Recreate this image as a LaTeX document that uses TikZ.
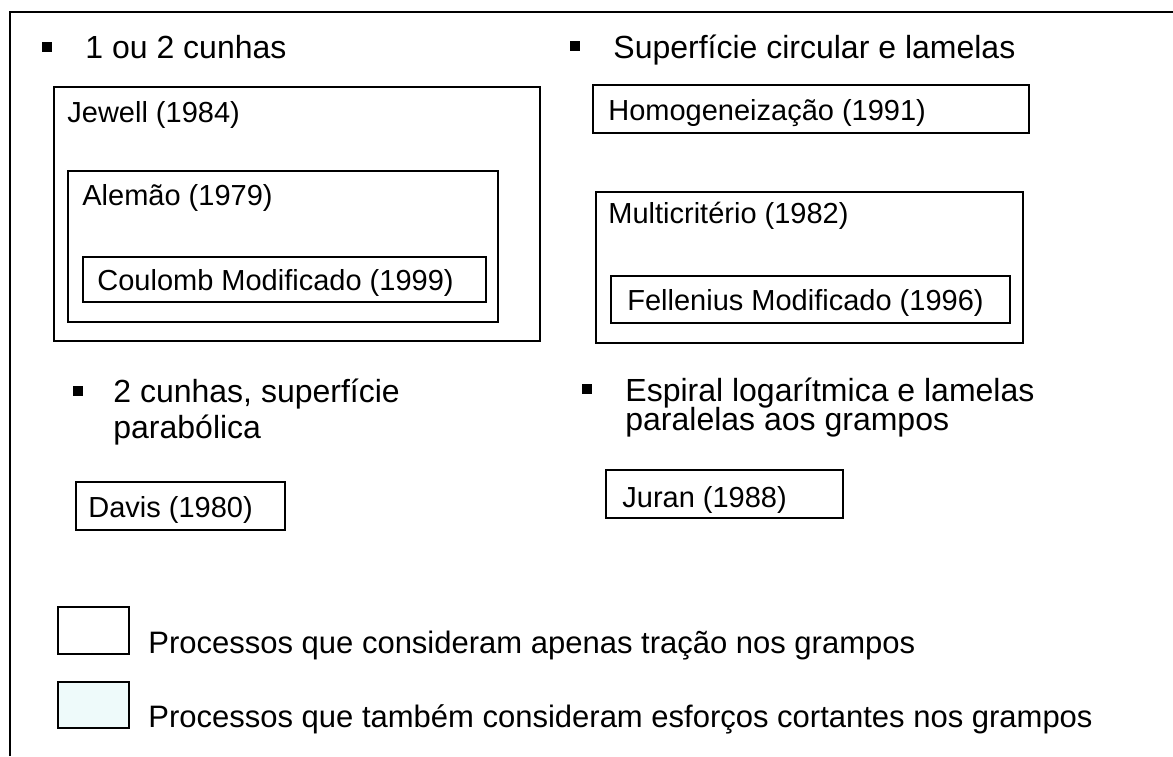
\documentclass[tikz,border=0pt]{standalone}
\usepackage{fontspec}
\setmainfont{Liberation Sans}
\definecolor{shearfill}{RGB}{238,250,250}
\tikzset{
  frame/.style={draw=black, line width=1.1pt},
  bullet/.style={fill=black, inner sep=0pt, minimum size=5pt},
  heading/.style={anchor=base west, inner sep=0pt, font=\fontsize{16}{19}\selectfont},
  method/.style={anchor=base west, inner sep=0pt, font=\fontsize{14.5}{17}\selectfont},
  legend/.style={anchor=base west, inner sep=0pt, font=\fontsize{15.5}{18}\selectfont}
}

\begin{document}
\begin{tikzpicture}[x=0.5pt, y=-0.5pt]
  \useasboundingbox (0,0) rectangle (1173,756);
  \draw[line width=1.1pt] (10,756) -- (10,12) -- (1173,12);

  % 1 ou 2 cunhas
  \node[bullet] (b1) at (47,47) {};
  \node[heading] (h1) at (85,58) {1 ou 2 cunhas};
  \draw[frame] (54,87) rectangle (540,341);
  \node[method] (jewell) at (67,122) {Jewell (1984)};
  \draw[frame] (68,171) rectangle (498,322);
  \node[method] (alemao) at (82,205) {Alemão (1979)};
  \draw[frame] (83,257) rectangle (486,302);
  \node[method] (coulomb) at (97,290) {Coulomb Modificado (1999)};

  % superficie circular
  \node[bullet] (b2) at (575,46) {};
  \node[heading] (h2) at (613,58) {Superfície circular e lamelas};
  \draw[frame] (593,85) rectangle (1029,133);
  \node[method] (homog) at (608,120) {Homogeneização (1991)};
  \draw[frame] (596,192) rectangle (1023,343);
  \node[method] (multi) at (608,223) {Multicritério (1982)};
  \draw[frame] (611,276) rectangle (1010,323);
  \node[method] (fellenius) at (627,310) {Fellenius Modificado (1996)};

  % 2 cunhas
  \node[bullet] (b3) at (78,391) {};
  \node[heading] (h3a) at (113,402) {2 cunhas, superfície};
  \node[heading] (h3b) at (113,438) {parabólica};
  \draw[frame] (76,482) rectangle (285,530);
  \node[method] (davis) at (88,517) {Davis (1980)};

  % espiral
  \node[bullet] (b4) at (587,389) {};
  \node[heading] (h4a) at (625,401) {Espiral logarítmica e lamelas};
  \node[heading] (h4b) at (625,430) {paralelas aos grampos};
  \draw[frame] (606,470) rectangle (843,518);
  \node[method] (juran) at (622,507) {Juran (1988)};

  % legenda
  \draw[frame] (58,607) rectangle (129,654);
  \node[legend] (leg1) at (148,653) {Processos que consideram apenas tração nos grampos};
  \draw[frame, fill=shearfill] (58,682) rectangle (129,728);
  \node[legend] (leg2) at (148,727) {Processos que também consideram esforços cortantes nos grampos};
\end{tikzpicture}
\end{document}
